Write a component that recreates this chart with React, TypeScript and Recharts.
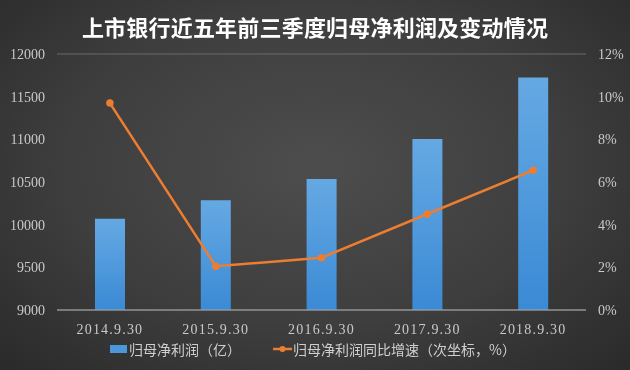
import {
  Bar,
  CartesianGrid,
  ComposedChart,
  Legend,
  Line,
  XAxis,
  YAxis,
} from "recharts";

const dates = ["2014.9.30", "2015.9.30", "2016.9.30", "2017.9.30", "2018.9.30"];
const profit = [10070, 10285, 10535, 11005, 11725];
const growth = [9.7, 2.05, 2.45, 4.5, 6.55];
const leftTicks = [9000, 9500, 10000, 10500, 11000, 11500, 12000];
const rightTicks = [0, 2, 4, 6, 8, 10, 12];

const data = dates.map((date, i) => ({
  date,
  profit: profit[i],
  growth: growth[i],
}));

const tickStyle = {
  fill: "#c9c9c9",
  fontSize: 14,
  fontFamily: "'Liberation Serif', 'DejaVu Serif', serif",
};

function LegendContent() {
  return (
    <div
      style={{
        position: "relative",
        top: 3,
        display: "flex",
        justifyContent: "center",
        alignItems: "center",
        gap: 32,
        color: "#cfcfcf",
        fontSize: 14,
        fontFamily: "'Noto Sans CJK SC', sans-serif",
        paddingRight: 4,
      }}
    >
      <span style={{ display: "flex", alignItems: "center" }}>
        <span
          style={{
            width: 17,
            height: 8,
            background: "#4a97dc",
            display: "inline-block",
            marginRight: 2,
          }}
        />
        归母净利润（亿）
      </span>
      <span style={{ display: "flex", alignItems: "center" }}>
        <svg width={19} height={10} style={{ marginRight: 1 }}>
          <line x1={0} y1={5} x2={19} y2={5} stroke="#ed7d31" strokeWidth={2.5} />
          <circle cx={9.5} cy={5} r={3} fill="#ed7d31" />
        </svg>
        归母净利润同比增速（次坐标，%）
      </span>
    </div>
  );
}

export default function App() {
  return (
    <div
      style={{
        position: "fixed",
        left: 0,
        top: 0,
        width: 630,
        height: 370,
        background:
          "radial-gradient(ellipse at 50% 45%, #4d4d4d 0%, #3e3e3e 55%, #2a2a2a 100%)",
      }}
    >
      <div
        style={{
          position: "absolute",
          top: 10,
          left: 0,
          width: 630,
          textAlign: "center",
          color: "#ffffff",
          fontSize: 22,
          fontWeight: 700,
          fontFamily: "'Noto Sans CJK SC', sans-serif",
          letterSpacing: 0.2,
        }}
      >
        上市银行近五年前三季度归母净利润及变动情况
      </div>
      <ComposedChart
        width={630}
        height={370}
        data={data}
        margin={{ top: 54, right: 0, bottom: 4, left: 0 }}
        barCategoryGap={0}
      >
        <defs>
          <linearGradient id="barFill" x1="0" y1="0" x2="0" y2="1">
            <stop offset="0%" stopColor="#65a9e3" />
            <stop offset="100%" stopColor="#3b8ad5" />
          </linearGradient>
        </defs>
        <CartesianGrid vertical={false} stroke="#6a6a6a" strokeWidth={1} />
        <XAxis
          dataKey="date"
          axisLine={{ stroke: "#a8a8a8" }}
          tickLine={false}
          tick={{ ...tickStyle, letterSpacing: 1.2 }}
          tickMargin={8}
          height={26}
        />
        <YAxis
          yAxisId="left"
          domain={[9000, 12000]}
          ticks={leftTicks}
          axisLine={false}
          tickLine={false}
          tickSize={0}
          tickMargin={12}
          tick={tickStyle}
          width={57}
        />
        <YAxis
          yAxisId="right"
          orientation="right"
          domain={[0, 12]}
          ticks={rightTicks}
          tickFormatter={(v) => `${v}%`}
          axisLine={false}
          tickLine={false}
          tickSize={0}
          tickMargin={12}
          tick={tickStyle}
          width={44}
        />
        <Legend verticalAlign="bottom" height={30} content={LegendContent} />
        <Bar
          yAxisId="left"
          dataKey="profit"
          fill="url(#barFill)"
          barSize={30}
          isAnimationActive={false}
        />
        <Line
          yAxisId="right"
          dataKey="growth"
          stroke="#ed7d31"
          strokeWidth={2.5}
          dot={{ r: 2.5, fill: "#ed7d31", stroke: "#ed7d31" }}
          isAnimationActive={false}
        />
      </ComposedChart>
    </div>
  );
}
